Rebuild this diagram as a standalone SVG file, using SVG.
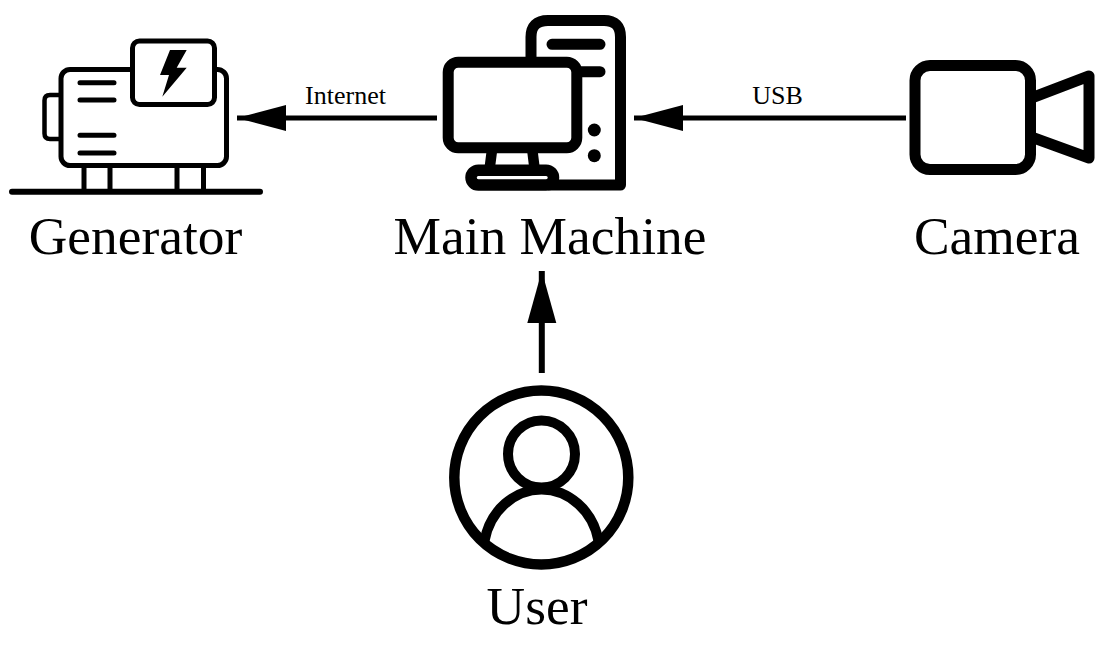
<svg xmlns="http://www.w3.org/2000/svg" width="1108" height="650" viewBox="0 0 1108 650">
<style>
.o{fill:#fff;stroke:#000;stroke-linejoin:round;stroke-linecap:round}
.n{fill:none;stroke:#000;stroke-linejoin:round;stroke-linecap:round}
.t{font-family:"Liberation Serif","Times New Roman",serif;fill:#000;text-anchor:middle}
.big{font-size:53.400px}
.small{font-size:26px}
</style>
<defs>
<marker id="a" markerUnits="userSpaceOnUse" markerWidth="50" markerHeight="26" refX="49" refY="13" orient="auto"><path d="M0 0L49 13L0 26Z" fill="#000"/></marker>
<marker id="b" markerUnits="userSpaceOnUse" markerWidth="53" markerHeight="30" refX="52" refY="15" orient="auto"><path d="M0 .5L52 15L0 29.500Z" fill="#000"/></marker>
</defs>
<rect width="1108" height="650" fill="#fff"/>
<g id="connectors" fill="none" stroke="#000" stroke-width="5">
<path d="M437 118H237" marker-end="url(#a)"/>
<path d="M906 118H634" marker-end="url(#a)"/>
<path d="M541.800 373V271" stroke-width="6" marker-end="url(#b)"/>
</g>
<g id="edge-labels" class="t small">
<text x="345.500" y="104.300">Internet</text>
<text x="777.500" y="104.300">USB</text>
</g>
<g id="generator">
<path class="n" stroke-width="4.500" d="M61 95H50Q44.500 95 44.500 100.500V133.500Q44.500 139 50 139H61"/>
<path class="n" stroke-width="5" d="M84 166V191M110 166V191M177 166V191M203.500 166V191"/>
<path class="n" stroke-width="6" d="M12 191.700H260"/>
<rect class="o" stroke-width="5" x="61" y="69.500" width="165.500" height="96" rx="9"/>
<path class="n" stroke-width="5" d="M80 82.700H114M80 100H114M80 135.300H114M80 153H114"/>
<rect class="o" stroke-width="5" x="132.500" y="41" width="82" height="63.500" rx="7"/>
<path d="M170 50H186.700L176.700 67.700H186.700L162.300 96.700L169 75H160Z" fill="#000"/>
<text class="t big" x="135.500" y="253.500">Generator</text>
</g>
<g id="main-machine">
<path class="n" stroke-width="11" d="M531 60V37Q531 20.500 548 20.500H604Q620.500 20.500 620.500 37V185H550"/>
<path class="n" stroke-width="11" d="M552 44.300H600M575 71.700H600"/>
<circle cx="594.300" cy="130" r="6.500"/>
<circle cx="594.300" cy="155.700" r="6.500"/>
<rect class="o" stroke-width="11" x="448.200" y="62.200" width="128.600" height="85.600" rx="10"/>
<path class="n" stroke-width="10.500" stroke-linecap="butt" d="M492 150L489.700 168M532.300 150L534.500 168"/>
<rect class="o" stroke-width="11.500" x="471" y="170.200" width="82.500" height="14.800" rx="7.400"/>
<text class="t big" x="550" y="253.500">Main Machine</text>
</g>
<g id="camera">
<rect class="n" stroke-width="11" x="915" y="65.500" width="115.500" height="104" rx="15"/>
<path class="n" stroke-width="11" stroke-linecap="butt" d="M1034 97L1089 76V158L1034 138"/>
<text class="t big" x="997" y="253.500">Camera</text>
</g>
<g id="user">
<circle class="n" stroke-width="10.500" cx="541.300" cy="477.500" r="87"/>
<circle class="n" stroke-width="10" cx="541.500" cy="454" r="33.500"/>
<path class="n" stroke-width="10" stroke-linecap="butt" d="M484.500 541C490 510 515 489.500 541.500 489.500C568 489.500 593 510 598.500 541"/>
<text class="t big" x="537" y="623.500">User</text>
</g>
</svg>
